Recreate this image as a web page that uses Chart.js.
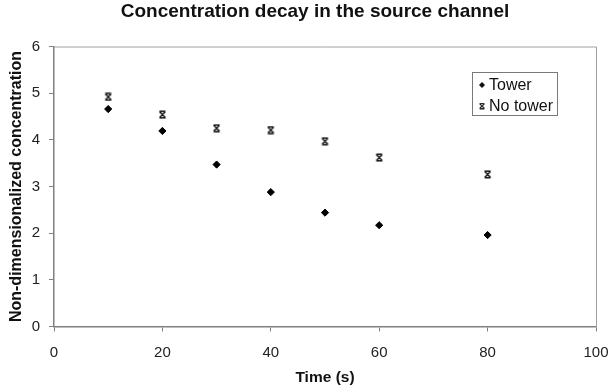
<!DOCTYPE html>
<html><head><meta charset="utf-8">
<script src="https://cdn.jsdelivr.net/npm/chart.js@4/dist/chart.umd.min.js"></script>
<style>html,body{margin:0;padding:0;background:#fff}#wrap{width:608px;height:392px}</style>
</head><body><div id="wrap"><canvas id="c" width="608" height="392"></canvas></div>
<script>
const timeValues = [10, 20, 30, 40, 50, 60, 80];
const towerValues = [4.66, 4.19, 3.47, 2.88, 2.44, 2.17, 1.96];
const noTowerValues = [4.92, 4.54, 4.25, 4.21, 3.97, 3.62, 3.26];
const seriesNames = ['Tower', 'No tower'];
const chartTitle = 'Concentration decay in the source channel';
const xTitle = 'Time (s)';
const yTitle = 'Non-dimensionalized concentration';
const FONT = '"Liberation Sans", Arial, sans-serif';

function makeXMarker(){
  const cv = document.createElement('canvas');
  cv.width = 9; cv.height = 9;
  const g = cv.getContext('2d');
  g.strokeStyle = '#111'; g.lineWidth = 1.4;
  g.beginPath();
  g.moveTo(1.5,1.5); g.lineTo(7.5,7.5);
  g.moveTo(7.5,1.5); g.lineTo(1.5,7.5);
  g.moveTo(1.5,1.2); g.lineTo(7.5,1.2);
  g.moveTo(1.5,7.8); g.lineTo(7.5,7.8);
  g.stroke();
  return cv;
}
const xMarker = makeXMarker();

const frame = {
  id: 'frame',
  afterDraw(chart){
    const {ctx, chartArea:a} = chart;
    ctx.save();
    // title
    ctx.font = 'bold 19px ' + FONT;
    ctx.fillStyle = '#111'; ctx.textAlign = 'center'; ctx.textBaseline = 'alphabetic';
    ctx.fillText(chartTitle, 315, 17);
    // top/right frame
    ctx.strokeStyle = '#a0a0a0'; ctx.lineWidth = 1;
    ctx.beginPath();
    ctx.moveTo(a.left, a.top + 0.5); ctx.lineTo(a.right + 0.5, a.top + 0.5); ctx.lineTo(a.right + 0.5, a.bottom);
    ctx.stroke();
    // legend
    const lx = 472.5, ly = 72.5, lw = 85, lh = 43;
    ctx.strokeStyle = '#7a7a7a';
    ctx.strokeRect(lx, ly, lw, lh);
    ctx.font = '16px ' + FONT;
    ctx.fillStyle = '#111'; ctx.textBaseline = 'middle'; ctx.textAlign = 'left';
    const mx = 482, my1 = 85, my2 = 106;
    ctx.beginPath();
    ctx.moveTo(mx, my1 - 3); ctx.lineTo(mx + 3, my1); ctx.lineTo(mx, my1 + 3); ctx.lineTo(mx - 3, my1); ctx.closePath();
    ctx.fill();
    ctx.fillText(seriesNames[0], 489, my1 + 1);
    ctx.drawImage(xMarker, mx - 3.5, my2 - 3.5, 7, 7);
    ctx.fillText(seriesNames[1], 489, my2 + 1);
    ctx.restore();
  }
};

new Chart(document.getElementById('c'), {
  type: 'scatter',
  data: {
    datasets: [
      { label: seriesNames[0], data: timeValues.map((t,i)=>({x:t, y:towerValues[i]})),
        pointStyle: 'rectRot', pointRadius: 3.6, backgroundColor: '#000', borderColor: '#000', borderWidth: 1 },
      { label: seriesNames[1], data: timeValues.map((t,i)=>({x:t, y:noTowerValues[i]})),
        pointStyle: xMarker, pointRadius: 4.5 }
    ]
  },
  options: {
    responsive: false,
    animation: false,
    layout: { padding: { left: 0, right: 12, top: 46.5, bottom: 0 } },
    plugins: {
      legend: { display: false },
      tooltip: { enabled: false },
      title: { display: false }
    },
    scales: {
      x: {
        type: 'linear', min: 0, max: 100,
        afterFit(s){ s.height = 65.5; s.paddingRight = 0; s.paddingLeft = 0; },
        ticks: { stepSize: 20, color: '#222', padding: 12, maxRotation: 0,
          font: { family: FONT, size: 15 } },
        grid: { display: true, drawOnChartArea: false, drawTicks: true, tickLength: 5, color: '#808080' },
        border: { display: true, color: '#808080', width: 1.5 },
        title: { display: true, text: xTitle, color: '#111', padding: { top: 0, bottom: 4.7 },
          font: { family: FONT, size: 15.5, weight: 'bold', lineHeight: 1.2 } }
      },
      y: {
        min: 0, max: 6,
        afterFit(s){ s.width = 54; s.paddingTop = 0; s.paddingBottom = 0; },
        ticks: { stepSize: 1, color: '#222', padding: 9,
          font: { family: FONT, size: 15 } },
        grid: { display: true, drawOnChartArea: false, drawTicks: true, tickLength: 5, color: '#808080' },
        border: { display: true, color: '#808080', width: 1.5 },
        title: { display: true, text: yTitle, color: '#111', padding: { top: 7.4, bottom: 0 },
          font: { family: FONT, size: 16, weight: 'bold', lineHeight: 1.2 } }
      }
    }
  },
  plugins: [frame]
});
</script>
</body></html>
